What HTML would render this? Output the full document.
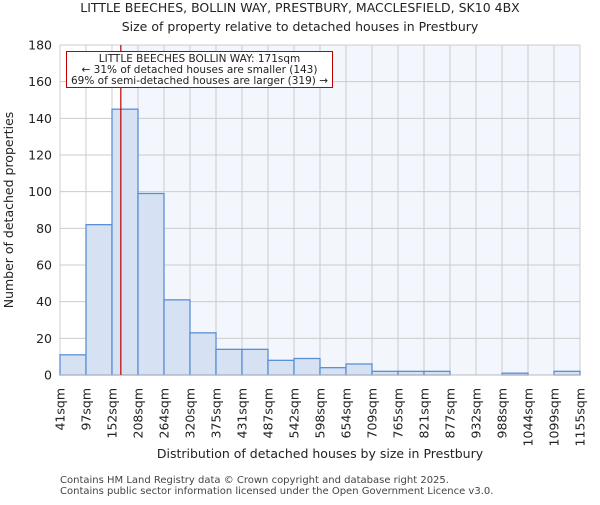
<!DOCTYPE html>
<html><head><meta charset="utf-8"><style>
body{margin:0;background:#fff;font-family:"Liberation Sans","DejaVu Sans",sans-serif}
text{font-family:"DejaVu Sans","Liberation Sans",sans-serif}
</style></head><body>
<svg id="chart" width="600" height="500" xmlns="http://www.w3.org/2000/svg">
<text x="300" y="12" text-anchor="middle" font-size="12.5" fill="#222">LITTLE BEECHES, BOLLIN WAY, PRESTBURY, MACCLESFIELD, SK10 4BX</text>
<text x="300" y="31" text-anchor="middle" font-size="12.5" fill="#222">Size of property relative to detached houses in Prestbury</text>
<g id="plot"></g>
<text x="320" y="458" text-anchor="middle" font-size="12.5" fill="#222">Distribution of detached houses by size in Prestbury</text>
<text transform="translate(13,210) rotate(-90)" text-anchor="middle" font-size="12.5" fill="#222">Number of detached properties</text>
<text x="60" y="483" font-size="10" fill="#444">Contains HM Land Registry data © Crown copyright and database right 2025.</text>
<text x="60" y="494" font-size="10" fill="#444">Contains public sector information licensed under the Open Government Licence v3.0.</text>
</svg>
<script>
const binEdges=[41,97,152,208,264,320,375,431,487,542,598,654,709,765,821,877,932,988,1044,1099,1155];
const counts=[11,82,145,99,41,23,14,14,8,9,4,6,2,2,2,0,0,1,0,2];
const yTicks=[0,20,40,60,80,100,120,140,160,180];
const propertySize=171;
const NS="http://www.w3.org/2000/svg";
const L=60,R=580,T=45,B=375,YMAX=180;
const xi=i=>L+i*(R-L)/(binEdges.length-1);
const xv=v=>{for(let i=0;i<binEdges.length-1;i++){if(v<=binEdges[i+1])return xi(i)+(v-binEdges[i])/(binEdges[i+1]-binEdges[i])*(xi(i+1)-xi(i));}return R;};
const y=v=>B-v/YMAX*(B-T);
const g=document.getElementById('plot');
function mk(tag,at){const e=document.createElementNS(NS,tag);for(const k in at)e.setAttribute(k,at[k]);g.appendChild(e);return e;}
const px=xv(propertySize);
let e=mk('rect',{x:L,y:T,width:R-L,height:B-T,fill:'#f3f6fd'});


e=mk('rect',{x:L,y:T,width:px-L,height:B-T,fill:'#ffffff'});


yTicks.forEach(t=>{
 let l=mk('line',{x1:L,x2:R,y1:y(t),y2:y(t),stroke:'#cccccc','stroke-width':1});
 
 
 let tx=mk('text',{x:L-8,y:y(t)+4.5,'text-anchor':'end','font-size':12.5,fill:'#222'});
 tx.textContent=t;
 
 
});
binEdges.forEach((b,i)=>{
 let l=mk('line',{x1:xi(i),x2:xi(i),y1:T,y2:B,stroke:'#cccccc','stroke-width':1});
 
 
 let tx=mk('text',{transform:`translate(${xi(i)+4.5},388) rotate(-90)`,'text-anchor':'end','font-size':12.5,fill:'#222'});
 tx.textContent=b+'sqm';
 
 
});
counts.forEach((c,i)=>{
 if(c<=0)return;
 let r=mk('rect',{x:xi(i),y:y(c),width:xi(i+1)-xi(i),height:B-y(c),fill:'#d6e1f3',stroke:'#5a8fd6','stroke-width':1.3});
 
 
});
e=mk('line',{x1:L,x2:R,y1:B,y2:B,stroke:'#bbb','stroke-width':1});


e=mk('line',{x1:px,x2:px,y1:T,y2:B,stroke:'#c00000','stroke-width':1.2});


e=mk('rect',{x:66.5,y:51.5,width:266,height:36,fill:'#fff',stroke:'#c00000','stroke-width':1});


['LITTLE BEECHES BOLLIN WAY: 171sqm','← 31% of detached houses are smaller (143)','69% of semi-detached houses are larger (319) →'].forEach((s,k)=>{
 let tx=mk('text',{x:199.5,y:62+k*11,'text-anchor':'middle','font-size':10.5,fill:'#222'});
 tx.textContent=s;
 
 
});
</script>
</body></html>
